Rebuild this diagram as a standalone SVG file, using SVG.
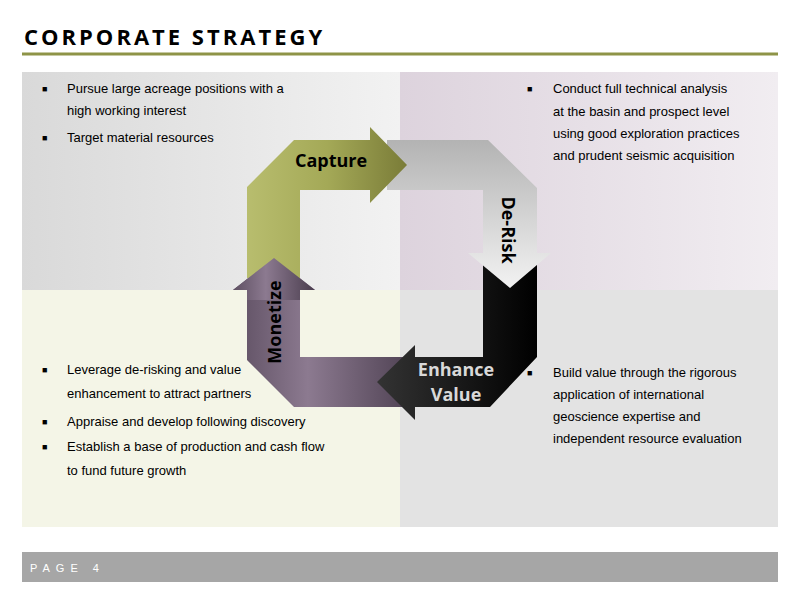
<svg xmlns="http://www.w3.org/2000/svg" width="800" height="600" viewBox="0 0 800 600">
<defs>
<linearGradient id="gTL" x1="0" y1="0" x2="1" y2="0"><stop offset="0" stop-color="#d9d9d9"/><stop offset="1" stop-color="#f2f2f2"/></linearGradient>
<linearGradient id="gTR" x1="0" y1="0" x2="1" y2="0"><stop offset="0" stop-color="#ddd3dd"/><stop offset="1" stop-color="#f1edf1"/></linearGradient>
<linearGradient id="gCap" x1="0" y1="0" x2="1" y2="0"><stop offset="0" stop-color="#b8bd6e"/><stop offset="0.5" stop-color="#a4a957"/><stop offset="1" stop-color="#7a7c38"/></linearGradient>
<linearGradient id="gDer" x1="0" y1="0" x2="0" y2="1"><stop offset="0" stop-color="#b3b3b3"/><stop offset="1" stop-color="#f2f2f2"/></linearGradient>
<linearGradient id="gEnh" x1="0" y1="0" x2="1" y2="0"><stop offset="0" stop-color="#333"/><stop offset="1" stop-color="#000"/></linearGradient>
<linearGradient id="gMon" x1="0" y1="0" x2="1" y2="0"><stop offset="0" stop-color="#5e4f62"/><stop offset="0.4" stop-color="#8c7a90"/><stop offset="1" stop-color="#4a3d4e"/></linearGradient>
<style>
.t{font-family:"Liberation Sans",Arial,sans-serif;font-size:13px;fill:#000}
.b{font-family:"Liberation Sans",Arial,sans-serif;font-size:9px;fill:#000}
.lab{font-family:"Open Sans","Liberation Sans",sans-serif;font-weight:bold;font-size:18px;text-anchor:middle}
</style>
</defs>
<rect width="800" height="600" fill="#fff"/>
<text x="24" y="45" font-family="Open Sans, Liberation Sans, sans-serif" font-weight="bold" font-size="22" letter-spacing="3" fill="#000">CORPORATE STRATEGY</text>
<line x1="22" y1="54" x2="778" y2="54" stroke="#8e9447" stroke-width="3"/>
<g id="panels">
<rect x="22" y="72" width="378" height="218" fill="url(#gTL)"/>
<rect x="400" y="72" width="378" height="218" fill="url(#gTR)"/>
<rect x="22" y="290" width="378" height="237" fill="#f4f5e7"/>
<rect x="400" y="290" width="378" height="237" fill="#e3e3e3"/>
</g>
<g id="text-tl">
<text class="b" x="42" y="92">■</text>
<text class="t" x="67" y="93">Pursue large acreage positions with a</text>
<text class="t" x="67" y="115">high working interest</text>
<text class="b" x="42" y="141">■</text>
<text class="t" x="67" y="142">Target material resources</text>
</g>
<g id="text-tr">
<text class="b" x="527" y="92">■</text>
<text class="t" x="553" y="93">Conduct full technical analysis</text>
<text class="t" x="553" y="116">at the basin and prospect level</text>
<text class="t" x="553" y="138">using good exploration practices</text>
<text class="t" x="553" y="160">and prudent seismic acquisition</text>
</g>
<g id="text-bl">
<text class="b" x="42" y="373">■</text>
<text class="t" x="67" y="374">Leverage de-risking and value</text>
<text class="t" x="67" y="398">enhancement to attract partners</text>
<text class="b" x="42" y="425">■</text>
<text class="t" x="67" y="426">Appraise and develop following discovery</text>
<text class="b" x="42" y="450">■</text>
<text class="t" x="67" y="451">Establish a base of production and cash flow</text>
<text class="t" x="67" y="475">to fund future growth</text>
</g>
<g id="text-br">
<text class="b" x="527" y="376">■</text>
<text class="t" x="553" y="377">Build value through the rigorous</text>
<text class="t" x="553" y="399">application of international</text>
<text class="t" x="553" y="421">geoscience expertise and</text>
<text class="t" x="553" y="443">independent resource evaluation</text>
</g>
<g id="connectors">
<polygon id="monetize-bar" points="300,357 420,357 420,407 294,407 247,360 247,290 233,290 274,258 315,290 300,290" fill="url(#gMon)"/>
<polygon id="enhance" points="483,265 537,265 537,357 490,407 415,407 415,420 377,382 415,345 415,357 483,357" fill="url(#gEnh)"/>
<polygon id="derisk" points="387,140 488,140 537,188 537,253 551,253 510,288 468,253 483,253 483,190 387,190" fill="url(#gDer)"/>
<polygon id="capture" points="247,278 247,187 294,140 370,140 370,127 407,165 370,203 370,190 300,190 300,278" fill="url(#gCap)"/>
<polygon id="monetize-head" points="300,300 300,290 315,290 274,258 233,290 247,290 247,300" fill="url(#gMon)"/>
</g>
<g id="n-capture"><text class="lab" x="331" y="167" fill="#000">Capture</text></g>
<g id="n-derisk"><text class="lab" transform="translate(502,230) rotate(90)" fill="#000">De-Risk</text></g>
<g id="n-enhance"><text class="lab" x="456" y="376" fill="#d9d9d9">Enhance</text><text class="lab" x="456" y="401" fill="#d9d9d9">Value</text></g>
<g id="n-monetize"><text class="lab" transform="translate(281,322) rotate(-90)" fill="#000">Monetize</text></g>
<rect x="22" y="552" width="756" height="30" fill="#a6a6a6"/>
<text x="30" y="572" font-family="Liberation Sans, sans-serif" font-size="11" letter-spacing="6" fill="#fff">PAGE 4</text>
</svg>
